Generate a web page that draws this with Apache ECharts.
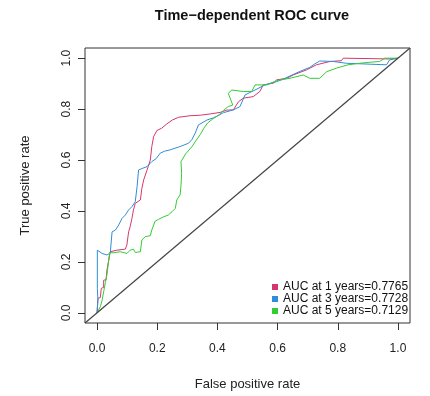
<!DOCTYPE html>
<html>
<head>
<meta charset="utf-8">
<script src="https://cdn.jsdelivr.net/npm/echarts@6/dist/echarts.min.js"></script>
<style>
  html, body { margin: 0; padding: 0; background: #fff; }
  #main { width: 430px; height: 396px; }
</style>
</head>
<body>
<div id="main"></div>
<script>
// tick positions on both axes
var ticks = [0, 0.2, 0.4, 0.6, 0.8, 1.0];
var names = ["AUC at 1 years=0.7765", "AUC at 3 years=0.7728", "AUC at 5 years=0.7129"];
var colors = ["#D4376F", "#2F8DD8", "#33CC33"];

// [false positive rate, true positive rate]
var roc1 = [
  [0, 0], [0.003, 0.004], [0.003, 0.057], [0.011, 0.06], [0.014, 0.096], [0.022, 0.1],
  [0.022, 0.128], [0.03, 0.13], [0.033, 0.168], [0.038, 0.175], [0.044, 0.24], [0.066, 0.246],
  [0.094, 0.25], [0.099, 0.266], [0.105, 0.318], [0.11, 0.338], [0.116, 0.371], [0.121, 0.404],
  [0.127, 0.43], [0.144, 0.443], [0.149, 0.489], [0.155, 0.522], [0.166, 0.56], [0.177, 0.6],
  [0.182, 0.653], [0.188, 0.692], [0.199, 0.716], [0.215, 0.725], [0.232, 0.742], [0.25, 0.757],
  [0.271, 0.768], [0.309, 0.774], [0.343, 0.776], [0.376, 0.781], [0.409, 0.787], [0.431, 0.796],
  [0.453, 0.797], [0.47, 0.829], [0.486, 0.843], [0.519, 0.849], [0.541, 0.869], [0.552, 0.895],
  [0.586, 0.902], [0.597, 0.915], [0.63, 0.921], [0.652, 0.934], [0.696, 0.954], [0.729, 0.974],
  [0.774, 0.987], [0.812, 0.99], [0.818, 1.0], [0.972, 0.997], [1, 1]
];
var roc3 = [
  [0, 0], [0.003, 0.004], [0.003, 0.05], [0.001, 0.096], [0.001, 0.246], [0.017, 0.233],
  [0.033, 0.227], [0.044, 0.235], [0.05, 0.318], [0.061, 0.325], [0.072, 0.345], [0.083, 0.371],
  [0.094, 0.384], [0.105, 0.404], [0.116, 0.417], [0.127, 0.436], [0.133, 0.495], [0.138, 0.561],
  [0.15, 0.567], [0.166, 0.574], [0.182, 0.594], [0.196, 0.605], [0.21, 0.627], [0.225, 0.635],
  [0.243, 0.64], [0.276, 0.653], [0.304, 0.666], [0.315, 0.68], [0.326, 0.705], [0.337, 0.738],
  [0.365, 0.757], [0.387, 0.766], [0.398, 0.772], [0.42, 0.786], [0.453, 0.797], [0.475, 0.81],
  [0.492, 0.856], [0.525, 0.875], [0.558, 0.895], [0.597, 0.908], [0.619, 0.918], [0.641, 0.93],
  [0.674, 0.948], [0.707, 0.964], [0.724, 0.978], [0.74, 0.989], [0.785, 0.987], [0.829, 0.98],
  [0.962, 0.974], [0.972, 0.993], [1, 1]
];
var roc5 = [
  [0, 0], [0.003, 0.004], [0.011, 0.024], [0.017, 0.05], [0.022, 0.083], [0.028, 0.12],
  [0.033, 0.15], [0.038, 0.2], [0.042, 0.236], [0.055, 0.236], [0.077, 0.24], [0.099, 0.233],
  [0.11, 0.246], [0.121, 0.25], [0.127, 0.237], [0.144, 0.24], [0.149, 0.286], [0.16, 0.299],
  [0.177, 0.303], [0.182, 0.325], [0.193, 0.36], [0.204, 0.367], [0.221, 0.377], [0.237, 0.384],
  [0.249, 0.397], [0.26, 0.41], [0.265, 0.443], [0.276, 0.463], [0.279, 0.5], [0.281, 0.548],
  [0.279, 0.594], [0.295, 0.625], [0.315, 0.652], [0.328, 0.675], [0.343, 0.7], [0.355, 0.725],
  [0.367, 0.745], [0.385, 0.762], [0.405, 0.777], [0.42, 0.795], [0.436, 0.81], [0.451, 0.816],
  [0.436, 0.862], [0.448, 0.875], [0.486, 0.869], [0.514, 0.869], [0.525, 0.895], [0.564, 0.895],
  [0.597, 0.912], [0.641, 0.921], [0.685, 0.934], [0.707, 0.921], [0.74, 0.921], [0.763, 0.947],
  [0.796, 0.961], [0.834, 0.974], [0.873, 0.98], [0.906, 0.984], [0.939, 0.987], [0.956, 1.0],
  [0.983, 1.0], [1, 1]
];
var diag = [[-0.04, -0.04], [1.04, 1.04]];

var font = "Liberation Sans";
var chart = echarts.init(document.getElementById("main"));

function axis(name, rot) {
  return {
    type: "value",
    min: -0.04,
    max: 1.04,
    axisLine: { show: false, onZero: false },
    axisTick: { show: true, customValues: ticks, length: 7, lineStyle: { color: "#333", width: 1 } },
    axisLabel: {
      customValues: ticks,
      rotate: rot,
      margin: rot ? 12 : 20,
      fontFamily: font,
      fontSize: 12,
      color: "#222",
      formatter: function (v) { return v.toFixed(1); }
    },
    splitLine: { show: false },
    name: name,
    nameLocation: "middle",
    nameGap: rot ? 53 : 55,
    nameTextStyle: { fontFamily: font, fontSize: 13, color: "#222" }
  };
}

var series = [roc1, roc3, roc5].map(function (d, i) {
  return {
    name: names[i],
    type: "line",
    data: d,
    symbol: "none",
    color: colors[i],
    lineStyle: { width: 1, color: colors[i] },
    animation: false
  };
});
series.push({
  type: "line",
  data: diag,
  symbol: "none",
  silent: true,
  lineStyle: { width: 1.2, color: "#444" },
  animation: false
});

chart.setOption({
  animation: false,
  title: {
    text: "Time\u2212dependent ROC curve",
    left: 247,
    top: 3,
    textAlign: "center",
    textStyle: { fontFamily: font, fontSize: 14.5, fontWeight: "bold", color: "#111" }
  },
  grid: {
    left: 85, right: 20, top: 48, bottom: 73,
    show: true, borderColor: "#333", borderWidth: 1, backgroundColor: "transparent"
  },
  legend: {
    data: names,
    orient: "vertical",
    left: 267,
    top: 276,
    icon: "rect",
    itemWidth: 6,
    itemHeight: 6,
    itemGap: 0,
    textStyle: { fontFamily: font, fontSize: 12, lineHeight: 11.7, color: "#111" }
  },
  xAxis: axis("False positive rate", 0),
  yAxis: axis("True positive rate", 90),
  series: series
});
</script>
</body>
</html>
